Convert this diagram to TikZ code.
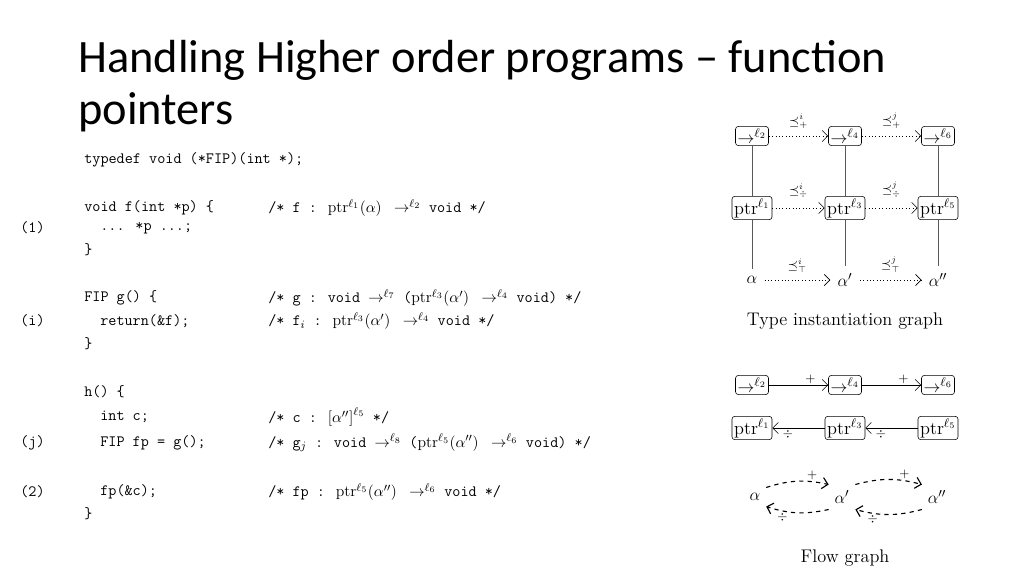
\documentclass[tikz,border=0pt]{standalone}
\usepackage{fontspec}
\newfontfamily\titlefont{Carlito}
\usetikzlibrary{positioning,arrows.meta}
\begin{document}
\begin{tikzpicture}[x=0.025cm,y=-0.025cm,
  code/.style = {anchor=west, inner sep=0pt, font=\ttfamily\fontsize{11.2}{14}\selectfont},
  tbox/.style = {draw, rounded corners=2pt, inner sep=1.5pt, font=\fontsize{13}{15}\selectfont},
  tvar/.style = {inner sep=1pt, font=\fontsize{13}{15}\selectfont},
  inst/.style = {dotted, -{Straight Barb[length=4pt]}},
  flow/.style = {-{Straight Barb[length=4pt]}},
  fl/.style = {font=\small, inner sep=1pt}]
  \useasboundingbox (0,0) rectangle (1024,576);
  % title
  \node[anchor=west, inner sep=0pt, font=\titlefont\fontsize{33}{37}\selectfont, align=left] (title) at (78,86)
    {Handling Higher order programs – function\\pointers};
  % code
  \node[code] (l1) at (84,160) {typedef void (*FIP)(int *);};
  \node[code] (l2) at (84,208) {void f(int *p) \{};
  \node[code] (k2) at (268,208) {/* f : $\mathrm{ptr}^{\ell_1}(\alpha)\ \rightarrow^{\ell_2}$ void */};
  \node[code] (n1) at (20,228) {(1)};
  \node[code] (l3) at (100,228) {... *p ...;};
  \node[code] (l4) at (84,250) {\}};
  \node[code] (l5) at (84,298) {FIP g() \{};
  \node[code] (k5) at (268,298) {/* g : void $\rightarrow^{\ell_7}$ ($\mathrm{ptr}^{\ell_3}(\alpha')\ \rightarrow^{\ell_4}$ void) */};
  \node[code] (ni) at (20,321) {(i)};
  \node[code] (l6) at (100,321) {return(\&f);};
  \node[code] (k6) at (268,321) {/* f$_i$ : $\mathrm{ptr}^{\ell_3}(\alpha')\ \rightarrow^{\ell_4}$ void */};
  \node[code] (l7) at (84,344) {\}};
  \node[code] (l8) at (84,392) {h() \{};
  \node[code] (l9) at (100,417) {int c;};
  \node[code] (k9) at (268,417) {/* c : $\left[\alpha''\right]^{\ell_5}$ */};
  \node[code] (nj) at (20,443) {(j)};
  \node[code] (l10) at (100,443) {FIP fp = g();};
  \node[code] (k10) at (268,443) {/* g$_j$ : void $\rightarrow^{\ell_8}$ ($\mathrm{ptr}^{\ell_5}(\alpha'')\ \rightarrow^{\ell_6}$ void) */};
  \node[code] (n2) at (20,492) {(2)};
  \node[code] (l11) at (100,492) {fp(\&c);};
  \node[code] (k11) at (268,492) {/* fp : $\mathrm{ptr}^{\ell_5}(\alpha'')\ \rightarrow^{\ell_6}$ void */};
  \node[code] (l12) at (84,514) {\}};
  % type instantiation graph
  \node[tbox] (f2) at (752,136) {$\rightarrow^{\ell_2}$};
  \node[tbox] (f4) at (845,136) {$\rightarrow^{\ell_4}$};
  \node[tbox] (f6) at (938,136) {$\rightarrow^{\ell_6}$};
  \node[tbox] (p1) at (752,208) {$\mathrm{ptr}^{\ell_1}$};
  \node[tbox] (p3) at (845,208) {$\mathrm{ptr}^{\ell_3}$};
  \node[tbox] (p5) at (938,208) {$\mathrm{ptr}^{\ell_5}$};
  \node[tvar, inner sep=5pt] (a1) at (752,280) {$\alpha$};
  \node[tvar, inner sep=5pt] (a2) at (845,280) {$\alpha'$};
  \node[tvar, inner sep=5pt] (a3) at (938,280) {$\alpha''$};
  \foreach \i/\j/\k in {f2/p1/a1, f4/p3/a2, f6/p5/a3} {
    \draw[gray!70!black, thin] (\i) -- (\j);
    \draw[gray!70!black, thin] (\j) -- (\k);
  }
  \draw[inst] (f2) -- node[above=4pt, fl] {$\preceq^{i}_{+}$} (f4);
  \draw[inst] (f4) -- node[above=4pt, fl] {$\preceq^{j}_{+}$} (f6);
  \draw[inst] (p1) -- node[above=6pt, fl] {$\preceq^{i}_{\div}$} (p3);
  \draw[inst] (p3) -- node[above=6pt, fl] {$\preceq^{j}_{\div}$} (p5);
  \draw[inst] (a1) -- node[above=4pt, fl] {$\preceq^{i}_{\top}$} (a2);
  \draw[inst] (a2) -- node[above=4pt, fl] {$\preceq^{j}_{\top}$} (a3);
  \node[font=\fontsize{13}{15}\selectfont] (cap1) at (845,321) {Type instantiation graph};
  % flow rows
  \node[tbox] (g2) at (752,385) {$\rightarrow^{\ell_2}$};
  \node[tbox] (g4) at (845,385) {$\rightarrow^{\ell_4}$};
  \node[tbox] (g6) at (938,385) {$\rightarrow^{\ell_6}$};
  \draw[flow] (g2) -- node[above, fl, pos=0.7] {$+$} (g4);
  \draw[flow] (g4) -- node[above, fl, pos=0.7] {$+$} (g6);
  \node[tbox] (q1) at (752,428) {$\mathrm{ptr}^{\ell_1}$};
  \node[tbox] (q3) at (845,428) {$\mathrm{ptr}^{\ell_3}$};
  \node[tbox] (q5) at (938,428) {$\mathrm{ptr}^{\ell_5}$};
  \draw[flow] (q3) -- node[below, fl, pos=0.7] {$\div$} (q1);
  \draw[flow] (q5) -- node[below, fl, pos=0.7] {$\div$} (q3);
  % flow graph
  \node[tvar, inner sep=4pt] (b1) at (755,497) {$\alpha$};
  \node[tvar, inner sep=4pt] (b2) at (842,497) {$\alpha'$};
  \node[tvar, inner sep=4pt] (b3) at (937,497) {$\alpha''$};
  \draw[flow, dashed, thick] (b1.north east) to[bend left=15] node[above, fl, pos=0.75] {$+$} (b2.north west);
  \draw[flow, dashed, thick] (b2.north east) to[bend left=15] node[above, fl, pos=0.75] {$+$} (b3.north west);
  \draw[flow, dashed, thick] (b2.south west) to[bend left=15] node[below, fl, pos=0.75] {$\div$} (b1.south east);
  \draw[flow, dashed, thick] (b3.south west) to[bend left=15] node[below, fl, pos=0.75] {$\div$} (b2.south east);
  \node[font=\fontsize{13}{15}\selectfont] (cap2) at (845,558) {Flow graph};
\end{tikzpicture}
\end{document}
